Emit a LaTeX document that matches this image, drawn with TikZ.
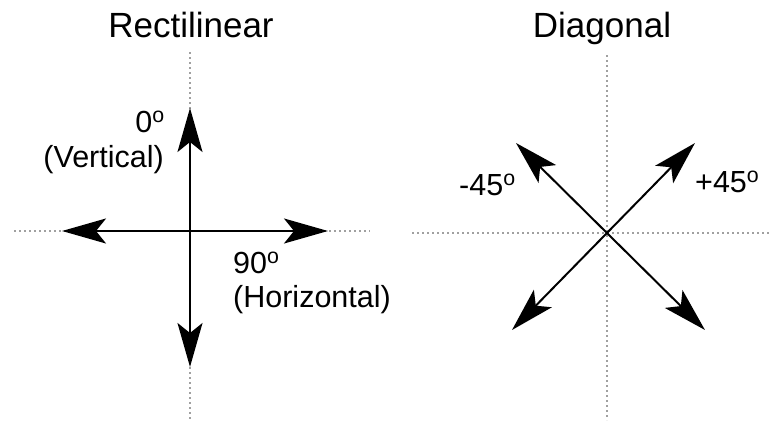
\documentclass[tikz,border=0pt]{standalone}
\usepackage{fontspec}
\setmainfont{Liberation Sans}
\usetikzlibrary{arrows.meta}
\definecolor{guidegray}{HTML}{A0A0A0}

\begin{document}
\begin{tikzpicture}[x=1pt, y=-1pt,
  guide/.style={guidegray, line width=2pt, dash pattern=on 2pt off 3pt},
  axis/.style={{Stealth[length=44pt, width=25pt, inset=10pt]}-{Stealth[length=44pt, width=25pt, inset=10pt]}, line width=2pt},
  title/.style={font=\fontsize{35}{40}\selectfont, inner sep=0pt},
  lbl/.style={font=\fontsize{30.5}{35}\selectfont, inner sep=0pt},
]
  \useasboundingbox (0,0) rectangle (771,423);

  % guide lines
  \coordinate (lgt) at (190,52);
  \coordinate (lgb) at (190,420);
  \coordinate (lgl) at (14,231);
  \coordinate (lgr) at (370,231);
  \coordinate (dgt) at (607,55);
  \coordinate (dgb) at (607,420);
  \coordinate (dgl) at (412,233);
  \coordinate (dgr) at (770,233);
  \draw[guide] (lgt) -- (lgb);
  \draw[guide] (lgl) -- (lgr);
  \draw[guide] (dgt) -- (dgb);
  \draw[guide] (dgl) -- (dgr);

  % rectilinear
  \coordinate (rt) at (190,108);
  \coordinate (rb) at (190,367);
  \coordinate (rl) at (62,231);
  \coordinate (rr) at (328,231);
  \draw[axis] (rl) -- (rr);
  \draw[axis] (rb) -- (rt);

  % diagonal
  \coordinate (dul) at (516,143);
  \coordinate (dlr) at (705,330);
  \coordinate (dur) at (695,143);
  \coordinate (dll) at (512,330);
  \draw[axis] (dul) -- (dlr);
  \draw[axis] (dll) -- (dur);

  % labels
  \node[title, anchor=base] (rtitle) at (191,37) {Rectilinear};
  \node[title, anchor=base] (dtitle) at (602,37) {Diagonal};
  \node[lbl, anchor=base east] (vdeg) at (165,132) {0\textsuperscript{o}};
  \node[lbl, anchor=base east] (vname) at (164,167) {(Vertical)};
  \node[lbl, anchor=base west] (hdeg) at (233,273) {90\textsuperscript{o}};
  \node[lbl, anchor=base west] (hname) at (233,307) {(Horizontal)};
  \node[lbl, anchor=base west] (mdeg) at (459,195) {-45\textsuperscript{o}};
  \node[lbl, anchor=base west] (pdeg) at (695,192) {+45\textsuperscript{o}};
\end{tikzpicture}
\end{document}
